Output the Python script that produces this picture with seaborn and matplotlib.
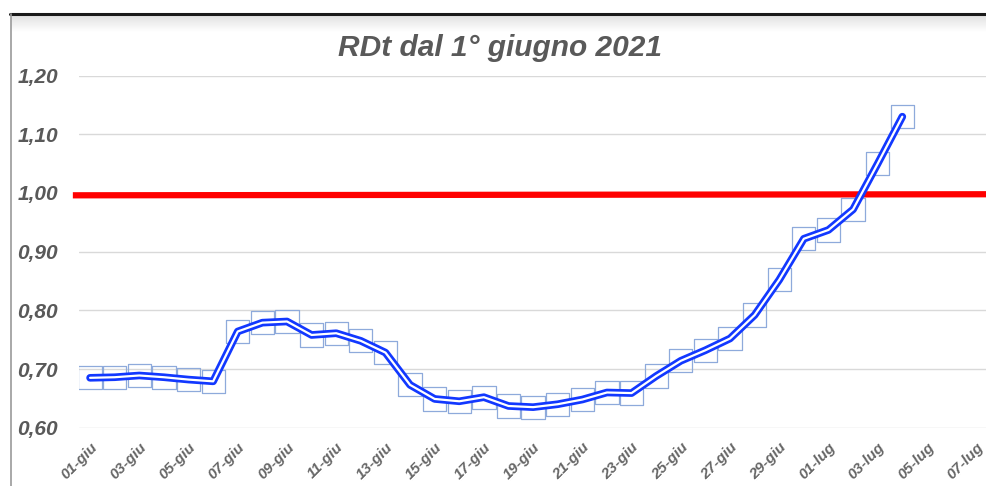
import numpy as np
import pandas as pd
import matplotlib
matplotlib.use("Agg")
import matplotlib.pyplot as plt
import matplotlib.patheffects as pe
from matplotlib.lines import Line2D
import seaborn as sns

# RDt values, one per day from 1 June 2021
rdt = [0.685, 0.686, 0.689, 0.686, 0.682, 0.679,
       0.764, 0.779, 0.781, 0.758, 0.761, 0.748, 0.728,
       0.673, 0.649, 0.645, 0.652,
       0.637, 0.635, 0.640, 0.648, 0.660, 0.659,
       0.688, 0.714, 0.732, 0.752, 0.792, 0.852, 0.922,
       0.937, 0.972, 1.050, 1.130]
dates = pd.date_range("2021-06-01", periods=len(rdt), freq="D")
threshold = 1.0

xtick_labels = ["01-giu", "03-giu", "05-giu", "07-giu", "09-giu", "11-giu",
                "13-giu", "15-giu", "17-giu", "19-giu", "21-giu", "23-giu",
                "25-giu", "27-giu", "29-giu", "01-lug", "03-lug", "05-lug",
                "07-lug"]
ytick_values = [0.60, 0.70, 0.80, 0.90, 1.00, 1.10, 1.20]

df = pd.DataFrame({"day": (dates - dates[0]).days, "rdt": rdt})

sns.set_theme(style="white")
plt.rcParams["font.family"] = ["Liberation Sans", "DejaVu Sans"]

fig = plt.figure(figsize=(9.86, 4.86), dpi=100)
ax = fig.add_axes([79 / 986, 1 - 427.7 / 486, 1 - 79 / 986, (427.7 - 75.6) / 486])

# grid
for v in ytick_values:
    ax.axhline(v, color="#d9d9d9", lw=1, zorder=0)

# threshold line (extends a bit left of the plot area like the original)
ax.plot([-0.7, 40], [threshold - 0.004, threshold - 0.002], color="#ff0000",
        lw=4.5, solid_capstyle="butt", zorder=2, clip_on=False)

# square markers
sns.scatterplot(data=df, x="day", y="rdt", marker="s", s=280,
                facecolor="none", edgecolor="#8eaadb", linewidth=0.9,
                ax=ax, zorder=3, legend=False)

# double line: blue outer, white core
sns.lineplot(data=df, x="day", y="rdt", color="white", lw=1.6, ax=ax,
             zorder=4, legend=False,
             path_effects=[pe.Stroke(linewidth=5.5, foreground="#1238ff",
                                     capstyle="round", joinstyle="round"),
                           pe.Normal()])

ax.set_xlim(-0.45, 36.4)
ax.set_ylim(0.60, 1.20)
ax.set_xticks(range(0, 37, 2))
ax.set_xticklabels(xtick_labels, rotation=45, ha="right", va="top",
                   rotation_mode="anchor", fontsize=11, fontweight="bold",
                   fontstyle="italic", color="#666666")
ax.set_yticks(ytick_values)
ax.set_yticklabels([f"{v:.2f}".replace(".", ",") for v in ytick_values],
                   fontsize=15, fontweight="bold", fontstyle="italic",
                   color="#595959")
ax.tick_params(axis="x", length=0, pad=9)
ax.tick_params(axis="y", length=0, pad=15)
ax.set_xlabel("")
ax.set_ylabel("")
for s in ax.spines.values():
    s.set_visible(False)

fig.text(500 / 986, 1 - 48 / 486, "RDt dal 1° giugno 2021", ha="center",
         va="center", fontsize=21.5, fontweight="bold", fontstyle="italic",
         color="#595959")

# window frame: top dark edge with soft shadow, grey left edge
shade = fig.add_axes([11 / 986, 1 - 32 / 486, 1 - 11 / 986, 17 / 486])
grad = np.linspace(0.88, 1.0, 40).reshape(-1, 1)
shade.imshow(grad, aspect="auto", cmap="gray", vmin=0, vmax=1,
             extent=[0, 1, 0, 1], origin="upper")
shade.set_axis_off()
fig.add_artist(Line2D([10 / 986, 1], [1 - 14 / 486, 1 - 14 / 486],
                      transform=fig.transFigure, color="#1a1a1a", lw=2.2))
fig.add_artist(Line2D([11 / 986, 11 / 986], [0, 1 - 14 / 486],
                      transform=fig.transFigure, color="#9a9a9a", lw=1.2))

fig.savefig("out.png", dpi=100)
